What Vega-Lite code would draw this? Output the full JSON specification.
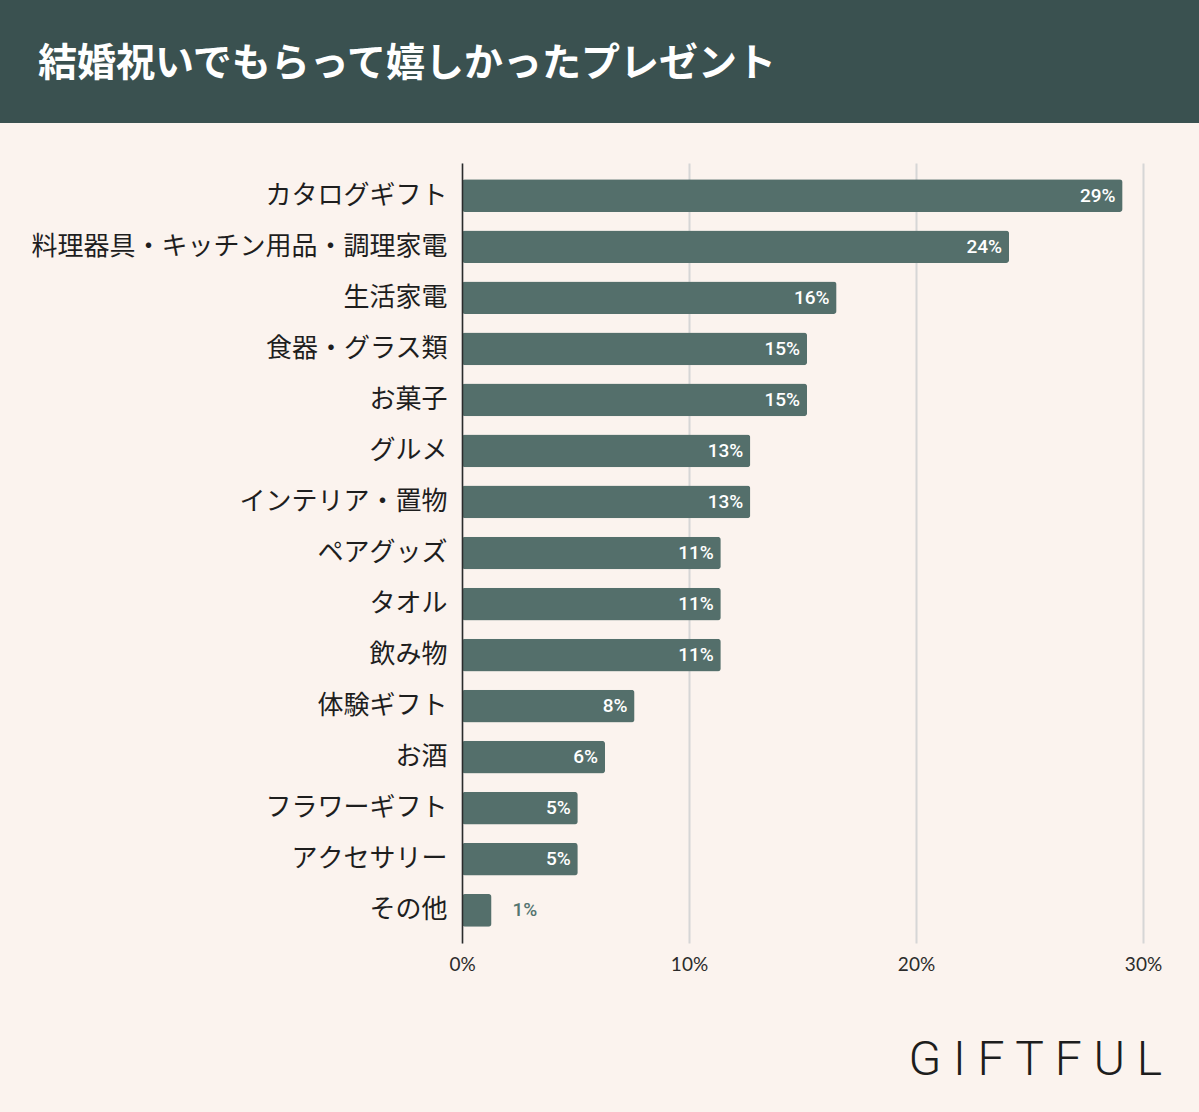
{
  "$schema": "https://vega.github.io/schema/vega-lite/v6.json",
  "background": "#fbf3ee",
  "padding": {"left": 0, "top": 0, "right": 0, "bottom": 30},
  "spacing": 40,
  "config": {"view": {"stroke": null}},
  "vconcat": [
    {
      "width": 1199,
      "height": 123,
      "data": {"values": [{"k": 1}]},
      "mark": {"type": "rect", "color": "#3a5150"},
      "encoding": {},
      "title": {
        "text": "結婚祝いでもらって嬉しかったプレゼント",
        "orient": "top",
        "anchor": "start",
        "frame": "group",
        "offset": -78,
        "dx": 38,
        "dy": 37,
        "baseline": "alphabetic",
        "font": "Noto Sans CJK JP",
        "fontSize": 39,
        "fontWeight": "bold",
        "color": "#ffffff"
      }
    },
    {
      "spacing": 0,
      "hconcat": [
        {
          "width": 1,
          "height": 10,
          "data": {"values": [{"k": 1}]},
          "mark": {"type": "rect", "opacity": 0},
          "encoding": {}
        },
        {
          "width": 681,
          "height": 780,
          "data": {
            "values": [
              {"item": "カタログギフト", "value": 29.1, "label": "29%"},
              {"item": "料理器具・キッチン用品・調理家電", "value": 24.1, "label": "24%"},
              {"item": "生活家電", "value": 16.5, "label": "16%"},
              {"item": "食器・グラス類", "value": 15.2, "label": "15%"},
              {"item": "お菓子", "value": 15.2, "label": "15%"},
              {"item": "グルメ", "value": 12.7, "label": "13%"},
              {"item": "インテリア・置物", "value": 12.7, "label": "13%"},
              {"item": "ペアグッズ", "value": 11.4, "label": "11%"},
              {"item": "タオル", "value": 11.4, "label": "11%"},
              {"item": "飲み物", "value": 11.4, "label": "11%"},
              {"item": "体験ギフト", "value": 7.6, "label": "8%"},
              {"item": "お酒", "value": 6.3, "label": "6%"},
              {"item": "フラワーギフト", "value": 5.1, "label": "5%"},
              {"item": "アクセサリー", "value": 5.1, "label": "5%"},
              {"item": "その他", "value": 1.3, "label": "1%"}
            ]
          },
          "title": {
            "text": "G I F T F U L",
            "orient": "bottom",
            "anchor": "end",
            "frame": "group",
            "offset": 63,
            "dx": 19,
            "font": "Roboto",
            "fontSize": 48,
            "fontWeight": 300,
            "color": "#1d1d1d"
          },
          "encoding": {
            "y": {
              "field": "item",
              "type": "nominal",
              "sort": null,
              "scale": {"paddingInner": 0.36, "paddingOuter": 0.32},
              "axis": {
                "title": null,
                "labelFont": "Noto Sans CJK JP",
                "labelFontSize": 26,
                "labelColor": "#1e1e1e",
                "labelPadding": 15,
                "labelLimit": 600,
                "ticks": false,
                "domainColor": "#2b2b2b",
                "domainWidth": 1.5,
                "minExtent": 461,
                "zindex": 1
              }
            },
            "x": {
              "field": "value",
              "type": "quantitative",
              "scale": {"domain": [0, 30]},
              "axis": {
                "title": null,
                "values": [0, 10, 20, 30],
                "labelExpr": "datum.value + '%'",
                "labelFlush": false,
                "domain": false,
                "ticks": false,
                "grid": true,
                "gridColor": "#d6d6d6",
                "gridWidth": 2,
                "labelFont": "Lato",
                "labelFontSize": 19,
                "labelColor": "#2b2b2b",
                "labelPadding": 12
              }
            }
          },
          "layer": [
            {
              "mark": {"type": "bar", "color": "#546f6b", "cornerRadius": 3}
            },
            {
              "transform": [{"filter": "datum.value >= 3"}],
              "mark": {"type": "text", "align": "right", "baseline": "middle", "dx": -7, "color": "#ffffff", "font": "Roboto", "fontSize": 19, "fontWeight": 500},
              "encoding": {"text": {"field": "label"}}
            },
            {
              "transform": [{"filter": "datum.value < 3"}],
              "mark": {"type": "text", "align": "left", "baseline": "middle", "dx": 21, "color": "#557570", "font": "Roboto", "fontSize": 19, "fontWeight": 500},
              "encoding": {"text": {"field": "label"}}
            }
          ]
        }
      ]
    }
  ]
}
